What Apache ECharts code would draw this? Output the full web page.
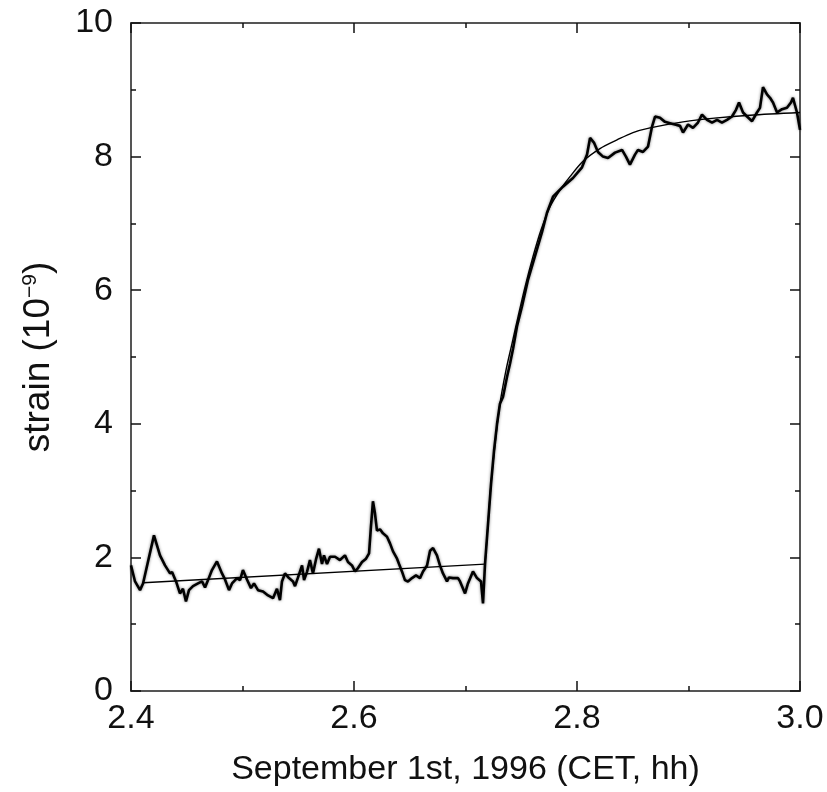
<!DOCTYPE html>
<html>
<head>
<meta charset="utf-8">
<script src="https://cdn.jsdelivr.net/npm/echarts@6/dist/echarts.min.js"></script>
<style>
  html, body { margin: 0; padding: 0; background: #fff; }
  #chart { width: 827px; height: 792px; }
</style>
</head>
<body>
<div id="chart"></div>
<script>
// measured strain record (hours, 10^-9)
var dataX = [2.4000,2.4036,2.4081,2.4108,2.4206,2.4260,2.4305,2.4350,2.4368,2.4404,2.4439,2.4466,2.4493,2.4520,2.4556,2.4601,2.4637,2.4664,2.4691,2.4726,
  2.4771,2.4816,2.4843,2.4879,2.4906,2.4951,2.4978,2.5004,2.5040,2.5076,2.5103,2.5139,2.5184,2.5229,2.5274,2.5309,2.5336,2.5354,2.5381,2.5417,
  2.5453,2.5471,2.5498,2.5534,2.5552,2.5578,2.5605,2.5632,2.5659,2.5686,2.5713,2.5731,2.5758,2.5785,2.5830,2.5874,2.5919,2.5946,2.5982,2.6009,
  2.6036,2.6072,2.6108,2.6135,2.6152,2.6170,2.6188,2.6206,2.6233,2.6260,2.6296,2.6323,2.6350,2.6386,2.6404,2.6430,2.6457,2.6484,2.6520,2.6556,
  2.6592,2.6619,2.6655,2.6682,2.6709,2.6744,2.6771,2.6798,2.6834,2.6852,2.6888,2.6933,2.6951,2.6996,2.7022,2.7067,2.7103,2.7139,2.7157,2.7175,
  2.7202,2.7229,2.7256,2.7283,2.7309,2.7336,2.7372,2.7399,2.7426,2.7462,2.7507,2.7561,2.7623,2.7686,2.7731,2.7785,2.7874,2.7964,2.8045,2.8090,
  2.8117,2.8152,2.8188,2.8233,2.8278,2.8341,2.8404,2.8439,2.8475,2.8520,2.8547,2.8592,2.8637,2.8673,2.8700,2.8744,2.8789,2.8834,2.8879,2.8924,
  2.8951,2.8996,2.9040,2.9085,2.9121,2.9166,2.9211,2.9256,2.9300,2.9345,2.9390,2.9426,2.9453,2.9489,2.9525,2.9570,2.9614,2.9641,2.9668,2.9704,
  2.9731,2.9758,2.9794,2.9839,2.9883,2.9919,2.9937,2.9973,3.0000];
var dataY = [1.88,1.64,1.51,1.61,2.33,2.03,1.88,1.76,1.78,1.64,1.46,1.53,1.34,1.51,1.57,1.61,1.64,1.55,1.66,1.81,
  1.94,1.76,1.67,1.51,1.61,1.69,1.66,1.81,1.67,1.54,1.61,1.51,1.49,1.43,1.39,1.53,1.36,1.64,1.76,1.69,
  1.64,1.57,1.70,1.88,1.66,1.78,1.96,1.76,1.97,2.13,1.90,2.03,1.90,2.01,2.01,1.96,2.03,1.93,1.88,1.79,
  1.84,1.93,1.98,2.06,2.46,2.84,2.66,2.40,2.42,2.36,2.31,2.21,2.09,1.98,1.90,1.79,1.66,1.64,1.69,1.73,
  1.69,1.79,1.88,2.10,2.14,2.03,1.88,1.76,1.64,1.70,1.69,1.69,1.64,1.46,1.61,1.79,1.69,1.64,1.31,1.90,
  2.50,3.10,3.60,4.00,4.30,4.40,4.70,4.90,5.12,5.46,5.76,6.16,6.51,6.87,7.16,7.40,7.55,7.68,7.84,8.03,
  8.28,8.21,8.07,8.00,7.98,8.06,8.10,8.00,7.88,8.03,8.10,8.07,8.15,8.45,8.60,8.58,8.52,8.50,8.48,8.46,
  8.36,8.48,8.43,8.51,8.63,8.55,8.51,8.55,8.51,8.55,8.60,8.70,8.81,8.66,8.60,8.53,8.66,8.73,9.04,8.93,
  8.88,8.81,8.66,8.71,8.73,8.81,8.88,8.66,8.40];

// fitted model, part 1: straight line before the step
var preFitX = [2.411, 2.7175];
var preFitY = [1.62, 1.90];
// fitted model, part 2: saturating rise after the step
var postFitX = [2.7175,2.7202,2.7229,2.7265,2.7309,2.7363,2.7417,2.7471,2.7534,2.7605,2.7677,2.7758,2.7848,2.7937,2.8054,2.8206,2.8359,2.8502,2.8655,2.8951,2.9256,2.9552,3.0000];
var postFitY = [1.90,2.50,3.10,3.70,4.30,4.80,5.20,5.60,6.05,6.50,6.90,7.25,7.50,7.70,7.93,8.12,8.25,8.36,8.43,8.52,8.58,8.62,8.66];

var xMin = 2.4, xMax = 3.0, xStep = 0.2;
var yMin = 0, yMax = 10, yStep = 2;

function pairs(xs, ys) {
  var out = [];
  for (var i = 0; i < xs.length; i++) out.push([xs[i], ys[i]]);
  return out;
}

var font = 'Liberation Sans, Arial, sans-serif';
var frameLine = { show: true, onZero: false, lineStyle: { color: '#555', width: 2 } };
var majorTick = { show: true, inside: true, length: 10, lineStyle: { color: '#111', width: 1.5 } };
var minorTick = { show: true, splitNumber: 2, length: 5, lineStyle: { color: '#111', width: 1.5 } };

var chart = echarts.init(document.getElementById('chart'));
var option = {
  backgroundColor: '#fff',
  animation: false,
  grid: { left: 131, right: 27, top: 23, bottom: 99 },
  xAxis: [
    {
      type: 'value', min: xMin, max: xMax, interval: xStep,
      axisLine: frameLine, axisTick: majorTick, minorTick: minorTick,
      splitLine: { show: false },
      axisLabel: { color: '#111', fontSize: 34, fontFamily: font, margin: 11,
        formatter: function (v) { return v.toFixed(1); } },
      name: 'September 1st, 1996 (CET, hh)', nameLocation: 'middle', nameGap: 62,
      nameTextStyle: { color: '#111', fontSize: 34, fontFamily: font }
    },
    {
      type: 'value', position: 'top', min: xMin, max: xMax, interval: xStep,
      axisLine: frameLine, axisTick: majorTick, minorTick: minorTick,
      splitLine: { show: false }, axisLabel: { show: false }
    }
  ],
  yAxis: [
    {
      type: 'value', min: yMin, max: yMax, interval: yStep,
      axisLine: frameLine, axisTick: majorTick, minorTick: minorTick,
      splitLine: { show: false },
      axisLabel: { color: '#111', fontSize: 34, fontFamily: font, margin: 18 },
      name: 'strain (10{sup|−9})', nameLocation: 'middle', nameGap: 74, nameRotate: 90,
      nameTextStyle: { color: '#111', fontSize: 37, fontFamily: font,
        rich: { sup: { fontSize: 21, fontFamily: font, color: '#111', verticalAlign: 'top', padding: [0, 0, 16, 0] } } }
    },
    {
      type: 'value', position: 'right', min: yMin, max: yMax, interval: yStep,
      axisLine: frameLine, axisTick: majorTick, minorTick: minorTick,
      splitLine: { show: false }, axisLabel: { show: false }
    }
  ],
  series: [
    {
      name: 'data', type: 'line', xAxisIndex: 0, yAxisIndex: 0,
      data: pairs(dataX, dataY), showSymbol: false, symbol: 'none',
      lineStyle: { color: '#000', width: 2.6, shadowColor: 'rgba(0,0,0,0.5)', shadowBlur: 3 }
    },
    {
      name: 'fit before', type: 'line', xAxisIndex: 0, yAxisIndex: 0,
      data: pairs(preFitX, preFitY), showSymbol: false, symbol: 'none',
      lineStyle: { color: '#000', width: 1.4 }
    },
    {
      name: 'fit after', type: 'line', xAxisIndex: 0, yAxisIndex: 0,
      data: pairs(postFitX, postFitY), showSymbol: false, symbol: 'none', smooth: 0.3,
      lineStyle: { color: '#000', width: 1.4 }
    }
  ]
};
chart.setOption(option);
</script>
</body>
</html>
